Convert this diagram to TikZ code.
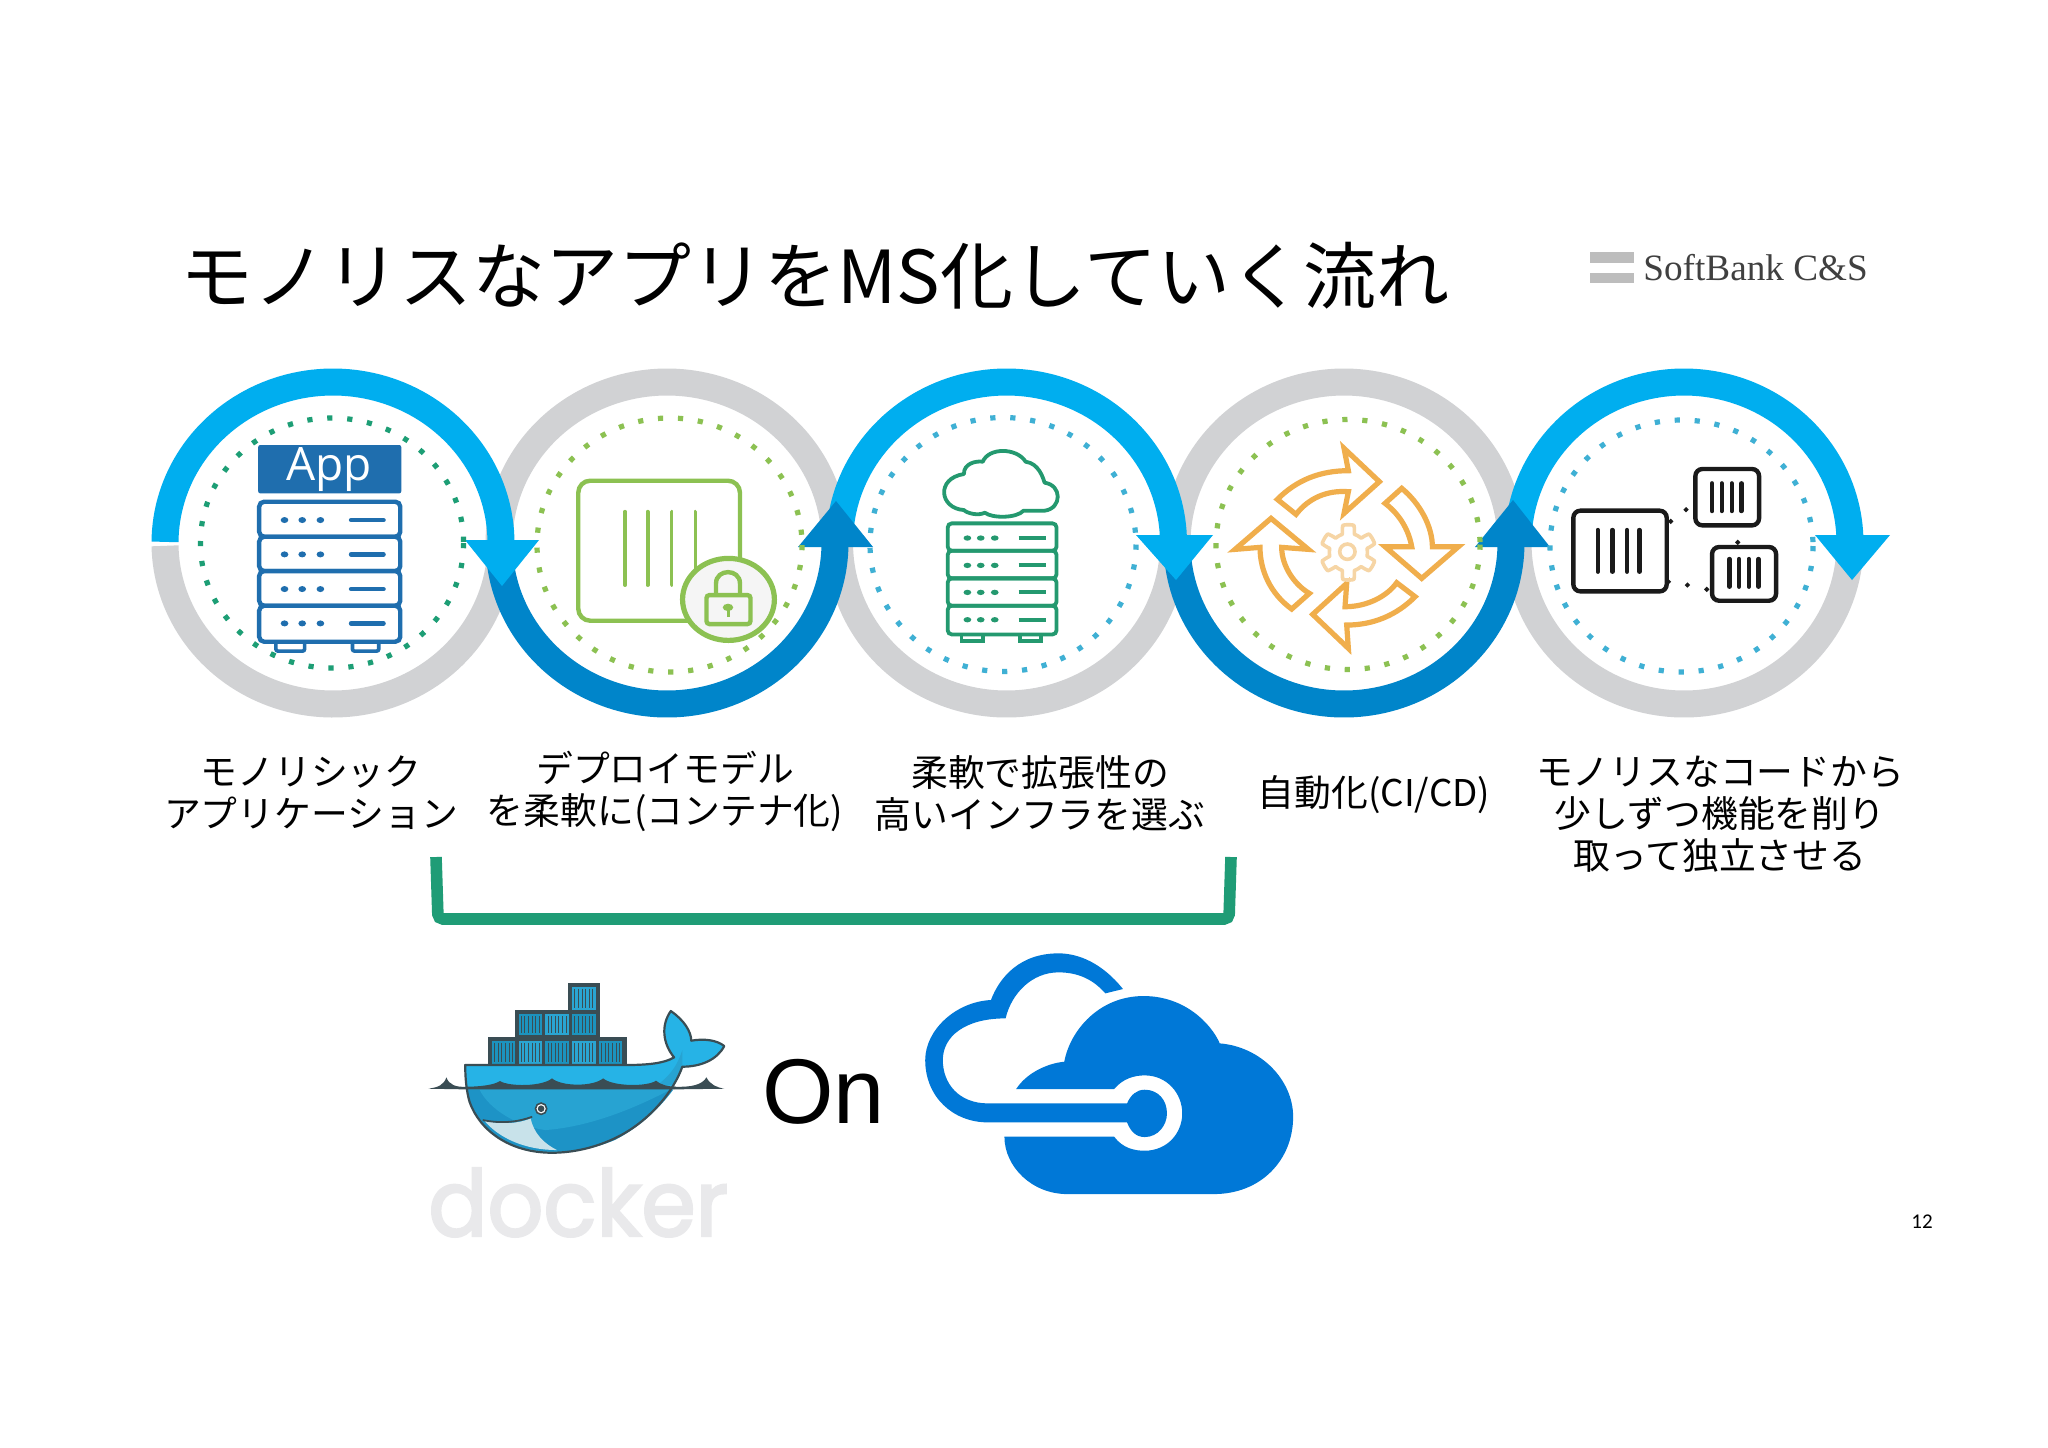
\documentclass[tikz,border=0pt]{standalone}
\usepackage{fontspec}
\setmainfont{Liberation Sans}
\newfontfamily\jp{Noto Sans CJK JP}
\newfontfamily\logofont{Liberation Serif}
\newfontfamily\dockfont[FakeBold=2.5,FakeStretch=0.95]{Poppins}
\newfontfamily\onfont{Liberation Sans}
\newfontfamily\numfont{Carlito}
\newfontfamily\appfont{Open Sans}
\definecolor{ringgray}{HTML}{D1D2D4}
\definecolor{lightring}{HTML}{00AEEF}
\definecolor{darkring}{HTML}{0085CA}
\definecolor{rackblue}{HTML}{1F6EAE}
\definecolor{dotgreen}{HTML}{1D9E75}
\definecolor{lime}{HTML}{8CC152}
\definecolor{dotblue}{HTML}{3FB0D4}
\definecolor{tealgreen}{HTML}{24996F}
\definecolor{amber}{HTML}{F0AE4C}
\definecolor{gearpale}{HTML}{F6D5A5}
\definecolor{inkblack}{HTML}{1A1A1A}
\definecolor{brackgreen}{HTML}{1F9C76}
\definecolor{azureblue}{HTML}{0078D7}
\definecolor{whaledark}{HTML}{3A4D54}
\definecolor{whaleup}{HTML}{26B3E6}
\definecolor{whalelow}{HTML}{1D93C6}
\definecolor{whalemid}{HTML}{27A3D2}
\definecolor{whalebelly}{HTML}{C8E2EA}
\definecolor{contA}{HTML}{1C93BE}
\definecolor{contB}{HTML}{2AA5D2}
\definecolor{dockgray}{HTML}{E9E9EB}
\definecolor{logobar}{HTML}{BDBDBD}
\tikzset{
  ring/.style={line width=13.5pt},
  dotring/.style={line width=2.6pt,dash pattern=on 2.6pt off 7.4pt},
  textlabel/.style={font=\jp\fontsize{18.4}{21}\selectfont,align=center,text=black,inner sep=0pt},
}
\newcommand\ringarc[7]{\draw[ring,#7] plot[domain=#5:#6,samples=90] ({#1+#3*cos(\x)},{#2+#4*sin(\x)});}
\begin{document}
\begin{tikzpicture}[x=0.5pt,y=-0.5pt]
\useasboundingbox (0,0) rectangle (2048,1447);
\fill[white] (0,0) rectangle (2048,1447);

% title and logo
\node[anchor=base west,inner sep=0pt,font=\jp\fontsize{36.5}{40}\selectfont] (title) at (180,303) {モノリスなアプリをMS化していく流れ};
\fill[logobar] (1590,252) rectangle (1634,262.5);
\fill[logobar] (1590,272.5) rectangle (1634,283);
\node[anchor=base west,inner sep=0pt,text=black!75,font=\logofont\fontsize{18.6}{20}\selectfont] (logo) at (1643,280) {SoftBank C\&S};

% grey halves
\ringarc{333}{543}{168}{161}{179}{0}{ringgray}
\ringarc{667}{543}{168}{161}{180}{360}{ringgray}
\ringarc{1006.5}{543}{167}{161}{180}{0}{ringgray}
\ringarc{1344}{543}{167}{161}{180}{360}{ringgray}
\ringarc{1684}{543}{166}{161}{180}{0}{ringgray}
% dark halves
\ringarc{667}{543}{168}{161}{180}{0}{darkring}
\ringarc{1344}{543}{167}{161}{180}{0}{darkring}
% light halves
\ringarc{333}{543}{168}{161}{180.4}{360}{lightring}
\ringarc{1006.5}{543}{167}{161}{180}{360}{lightring}
\ringarc{1684}{543}{166}{161}{180}{360}{lightring}
% arrow heads
\fill[lightring] (465,540) -- (539,540) -- (502,586) -- cycle;
\fill[darkring] (798,547) -- (873,547) -- (836,501) -- cycle;
\fill[lightring] (1136,535) -- (1213,535) -- (1176,580) -- cycle;
\fill[darkring] (1475,547) -- (1550,547) -- (1513,500) -- cycle;
\fill[lightring] (1815,535) -- (1890,535) -- (1852,580) -- cycle;

% dotted rings
\draw[dotring,dotgreen] (332,543) ellipse [x radius=131.6,y radius=125];
\draw[dotring,lime] (669.5,545) ellipse [x radius=132.5,y radius=127];
\draw[dotring,dotblue] (1003,544.5) ellipse [x radius=133,y radius=127];
\draw[dotring,lime] (1348,544.5) ellipse [x radius=132,y radius=125];
\draw[dotring,dotblue] (1681.5,546) ellipse [x radius=131.5,y radius=126];

% icon 1: monolith rack
\begin{scope}[shift={(130,350)},x=0.2392pt,y=-0.1667pt]
  \fill[rackblue,rounded corners=1pt] (268,285) rectangle (567,430);
  \node[text=white,font=\appfont\fontsize{23}{25}\selectfont,inner sep=0pt,anchor=base] (apptext) at (416,390) {App};
  \foreach \l/\r in {305/365,465/520} \draw[rackblue,line width=1.8pt,rounded corners=1pt] (\l,870) -- (\l,903) -- (\r,903) -- (\r,870);
  \foreach \t/\b/\m in {455/560/510,560/663/613,663/767/717,767/875/820}{
    \draw[rackblue,line width=2.2pt,rounded corners=2.5pt,fill=white] (270,\t) rectangle (565,\b);
    \foreach \d in {323,360,398} \fill[rackblue] (\d,\m) ellipse [x radius=8,y radius=9];
    \draw[rackblue,line width=2.2pt,line cap=round] (462,\m) -- (530,\m);
  }
\end{scope}

% icon 2: locked container
\begin{scope}[shift={(130,350)},x=0.2392pt,y=-0.1667pt]
  \draw[lime,line width=2.2pt,rounded corners=6pt] (937,392) rectangle (1275,812);
  \foreach \v in {1035,1082,1132,1182} \draw[lime,line width=1.9pt,line cap=round] (\v,485) -- (\v,705);
  \draw[lime,line width=2.6pt,fill=black!4] (1251,748) ellipse [x radius=96,y radius=123];
  \draw[lime,line width=2.2pt,rounded corners=1.5pt] (1205,735) rectangle (1297,822);
  \draw[lime,line width=2.2pt] (1225,735) -- (1225,700) .. controls (1225,655) and (1275,655) .. (1275,700) -- (1275,735);
  \fill[lime] (1250,772) ellipse [x radius=11,y radius=11];
  \draw[lime,line width=1.5pt] (1250,772) -- (1250,800);
\end{scope}

% icon 3: cloud on rack
\begin{scope}[shift={(820,350)},x=0.3509pt,y=-0.1667pt]
  \draw[tealgreen,line width=1.9pt,line join=round]
    (205,480) .. controls (170,475) and (165,385) .. (205,372)
    .. controls (205,340) and (222,332) .. (232,335)
    .. controls (240,292) and (280,292) .. (293,335)
    .. controls (312,340) and (318,385) .. (320,398)
    .. controls (345,405) and (345,475) .. (320,482)
    -- (290,482)
    .. controls (280,505) and (245,505) .. (235,488)
    .. controls (225,498) and (210,490) .. (205,480) -- cycle;
  \foreach \l/\r in {202/232,285/315} \draw[tealgreen,line width=1.7pt] (\l,850) -- (\l,873) -- (\r,873) -- (\r,850);
  \foreach \t/\b/\m in {520/602/564,602/685/646,685/767/727,767/853/809}{
    \draw[tealgreen,line width=1.9pt,rounded corners=2pt] (182,\t) rectangle (337,\b);
    \foreach \d in {210,229,249} \fill[tealgreen] (\d,\m) ellipse [x radius=5.5,y radius=8];
    \draw[tealgreen,line width=2pt] (283,\m) -- (322,\m);
  }
\end{scope}

% icon 4: automation arrows and gear
\begin{scope}[shift={(1220,430)},x=0.1667pt,y=-0.1667pt]
  \tikzset{autoarrow/.style={draw=amber,line width=2.6pt,line join=miter}}
  \draw[autoarrow] (172,208) .. controls (230,150) and (300,122) .. (385,122) -- (372,55) -- (478,155) -- (372,250) -- (385,185) .. controls (320,180) and (265,205) .. (228,253) -- cycle;
  \draw[autoarrow] (545,175) .. controls (600,220) and (637,290) .. (637,350) -- (715,350) -- (605,445) -- (495,350) -- (575,350) .. controls (565,295) and (535,250) .. (495,220) -- cycle;
  \draw[autoarrow] (585,500) .. controls (530,555) and (460,585) .. (380,585) -- (385,655) -- (278,553) -- (380,460) -- (375,530) .. controls (440,530) and (500,500) .. (530,458) -- cycle;
  \draw[autoarrow] (215,537) .. controls (150,490) and (120,420) .. (120,352) -- (45,358) -- (153,265) -- (265,358) -- (185,352) .. controls (185,410) and (225,465) .. (268,490) -- cycle;
  \draw[gearpale,line width=1.8pt,line join=round] plot[domain=0:360,samples=181] ({385+(70+13*min(1,max(-1,-3*cos(6*\x))))*cos(\x)},{367+(70+13*min(1,max(-1,-3*cos(6*\x))))*sin(\x)}) -- cycle;
  \draw[gearpale,line width=1.8pt] (382,365) circle [radius=23];
\end{scope}

% icon 5: split containers
\begin{scope}[shift={(1550,450)},x=0.1667pt,y=-0.1667pt]
  \tikzset{boxline/.style={draw=inkblack,line width=2.2pt,rounded corners=3.5pt},barline/.style={draw=inkblack,line width=2.2pt,line cap=round}}
  \draw[boxline] (70,182) rectangle (350,424);
  \foreach \v in {143,187,231,268} \draw[barline] (\v,240) -- (\v,365);
  \draw[boxline] (436,57) rectangle (627,226);
  \foreach \v in {486,515,545,574} \draw[barline] (\v,100) -- (\v,183);
  \draw[boxline] (486,291) rectangle (678,452);
  \foreach \v in {538,567,596,625} \draw[barline] (\v,327) -- (\v,410);
  \foreach \a/\b in {408/179,362/214,355/395,412/405,470/418,563/277}
    \fill[inkblack] (\a,\b) +(-8,0) -- +(0,-8) -- +(8,0) -- +(0,8) -- cycle;
\end{scope}

% labels
\node[textlabel] (lab1) at (311,793) {モノリシック\\アプリケーション};
\node[textlabel] (lab2) at (665,791) {デプロイモデル\\を柔軟に(コンテナ化)};
\node[textlabel] (lab3) at (1040,793) {柔軟で拡張性の\\高いインフラを選ぶ};
\node[textlabel] (lab4) at (1374,795) {自動化(CI/CD)};
\node[textlabel] (lab5) at (1720,814) {モノリスなコードから\\少しずつ機能を削り\\取って独立させる};

% bracket
\draw[brackgreen,line width=5.8pt,rounded corners=2.5pt] (436,857) -- (438,919) -- (1229,919) -- (1231,857);

% docker whale
\begin{scope}[shift={(420,970)},x=0.165pt,y=-0.1667pt]
  \fill[whaledark] (207,200) rectangle (627,290);
  \fill[whaledark] (288,120) rectangle (545,205);
  \fill[whaledark] (449,38) rectangle (545,125);
  \foreach \cx/\cy/\ch/\cc in {218/212/70/contA,299/212/70/contB,380/212/70/contA,461/212/70/contB,542/212/70/contA,299/132/63/contA,380/132/63/contB,461/132/63/contA,461/50/70/contB}{
    \fill[\cc] (\cx,\cy) rectangle ++(71,\ch);
    \foreach \s in {8,19,30,41,52,63} \draw[whaledark,line width=.45pt] ({\cx+\s},{\cy+6}) -- ({\cx+\s},{\cy+\ch-6});
  }
  % waves behind body
  \fill[whaledark] (25,356) .. controls (55,352) and (72,345) .. (80,322) .. controls (88,345) and (110,352) .. (140,350) -- (140,358) -- cycle;
  \fill[whaledark] (770,350) .. controls (820,352) and (855,345) .. (868,322) .. controls (880,345) and (900,352) .. (922,356) -- (770,358) -- cycle;
  % body
  \path[fill=whaleup] (137,285) -- (620,285) .. controls (690,285) and (740,280) .. (770,262)
     .. controls (735,220) and (730,165) .. (760,123) .. controls (800,150) and (822,185) .. (822,212)
     .. controls (860,205) and (900,210) .. (922,228) .. controls (900,270) and (850,290) .. (795,290)
     .. controls (770,360) and (700,450) .. (600,500) .. controls (540,530) and (470,548) .. (400,548)
     .. controls (270,548) and (180,480) .. (150,395) .. controls (140,360) and (137,320) .. (137,285) -- cycle;
  \fill[whalelow] (141,358) -- (768,358) .. controls (700,450) and (620,495) .. (590,510) .. controls (530,535) and (470,544) .. (400,544)
     .. controls (270,544) and (180,480) .. (152,395) -- cycle;
  \fill[whalemid] (180,358) -- (760,358) .. controls (660,410) and (520,470) .. (380,480) .. controls (300,470) and (210,420) .. (180,358) -- cycle;
  \fill[whalemid] (795,240) .. controls (775,300) and (750,320) .. (720,345) -- (770,345) .. controls (785,310) and (795,290) .. (795,290) -- cycle;
  % belly
  \fill[whalebelly] (195,452) .. controls (250,465) and (310,458) .. (335,445) .. controls (345,490) and (375,520) .. (415,540) .. controls (320,540) and (240,505) .. (195,452) -- cycle;
  % scalloped water line
  \fill[whaledark] (140,358) -- (140,350) .. controls (180,350) and (225,345) .. (242,333) .. controls (270,350) and (370,350) .. (400,325)
     .. controls (430,350) and (525,350) .. (555,325) .. controls (585,350) and (690,350) .. (715,332) .. controls (730,345) and (755,350) .. (775,350) -- (770,358) -- cycle;
  % outline
  \draw[whaledark,line width=1.1pt,line join=round] (137,285) -- (620,285) .. controls (690,285) and (740,280) .. (770,262)
     .. controls (735,220) and (730,165) .. (760,123) .. controls (800,150) and (822,185) .. (822,212)
     .. controls (860,205) and (900,210) .. (922,228) .. controls (900,270) and (850,290) .. (795,290)
     .. controls (770,360) and (700,450) .. (600,500) .. controls (540,530) and (470,548) .. (400,548)
     .. controls (270,548) and (180,480) .. (150,395) .. controls (140,360) and (137,320) .. (137,285) -- cycle;
  \draw[whaledark,line width=.9pt] (190,450) .. controls (250,462) and (300,455) .. (340,440);
  \filldraw[fill=white,draw=whaledark,line width=.8pt] (367,416) ellipse [x radius=17,y radius=17];
  \fill[whaledark] (367,416) ellipse [x radius=10,y radius=10];
\end{scope}
\node[anchor=base west,inner sep=0pt,text=dockgray,font=\dockfont\fontsize{46}{50}\selectfont] (dockertext) at (428,1236) {docker};

% on
\node[anchor=base west,inner sep=0pt,text=black,font=\onfont\fontsize{46}{50}\selectfont] (ontext) at (762,1123) {On};

% azure cloud
\begin{scope}[shift={(410,940)},x=0.2934pt,y=-0.1667pt]
  \fill[azureblue] (1033,447) .. controls (1050,400) and (1085,370) .. (1115,365)
    .. controls (1125,270) and (1175,168) .. (1250,168)
    .. controls (1320,168) and (1365,250) .. (1380,310)
    .. controls (1450,320) and (1505,420) .. (1505,530)
    .. controls (1505,660) and (1450,762) .. (1370,762)
    -- (1120,762)
    .. controls (1060,762) and (1013,680) .. (1013,590)
    -- (1200,590)
    .. controls (1215,625) and (1235,632) .. (1252,632)
    .. controls (1290,632) and (1316,580) .. (1316,520)
    .. controls (1316,460) and (1290,406) .. (1252,406)
    .. controls (1235,406) and (1215,415) .. (1200,447) -- cycle;
  \fill[azureblue] (1215,147) .. controls (1180,70) and (1140,40) .. (1105,40)
    .. controls (1040,40) and (1005,110) .. (990,180)
    .. controls (930,185) and (878,270) .. (878,360)
    .. controls (878,470) and (925,547) .. (985,547)
    -- (1222,547)
    .. controls (1228,575) and (1238,591) .. (1252,591)
    .. controls (1275,591) and (1290,555) .. (1290,520)
    .. controls (1290,480) and (1275,449) .. (1252,449)
    .. controls (1238,449) and (1228,465) .. (1222,490)
    -- (985,490)
    .. controls (935,490) and (908,430) .. (908,360)
    .. controls (908,290) and (945,235) .. (1015,235)
    .. controls (1025,160) and (1060,97) .. (1105,97)
    .. controls (1140,97) and (1165,120) .. (1185,160) -- cycle;
\end{scope}

% page number
\node[inner sep=0pt,font=\numfont\fontsize{10.5}{12}\selectfont] (pagenum) at (1922,1222) {12};
\end{tikzpicture}
\end{document}
